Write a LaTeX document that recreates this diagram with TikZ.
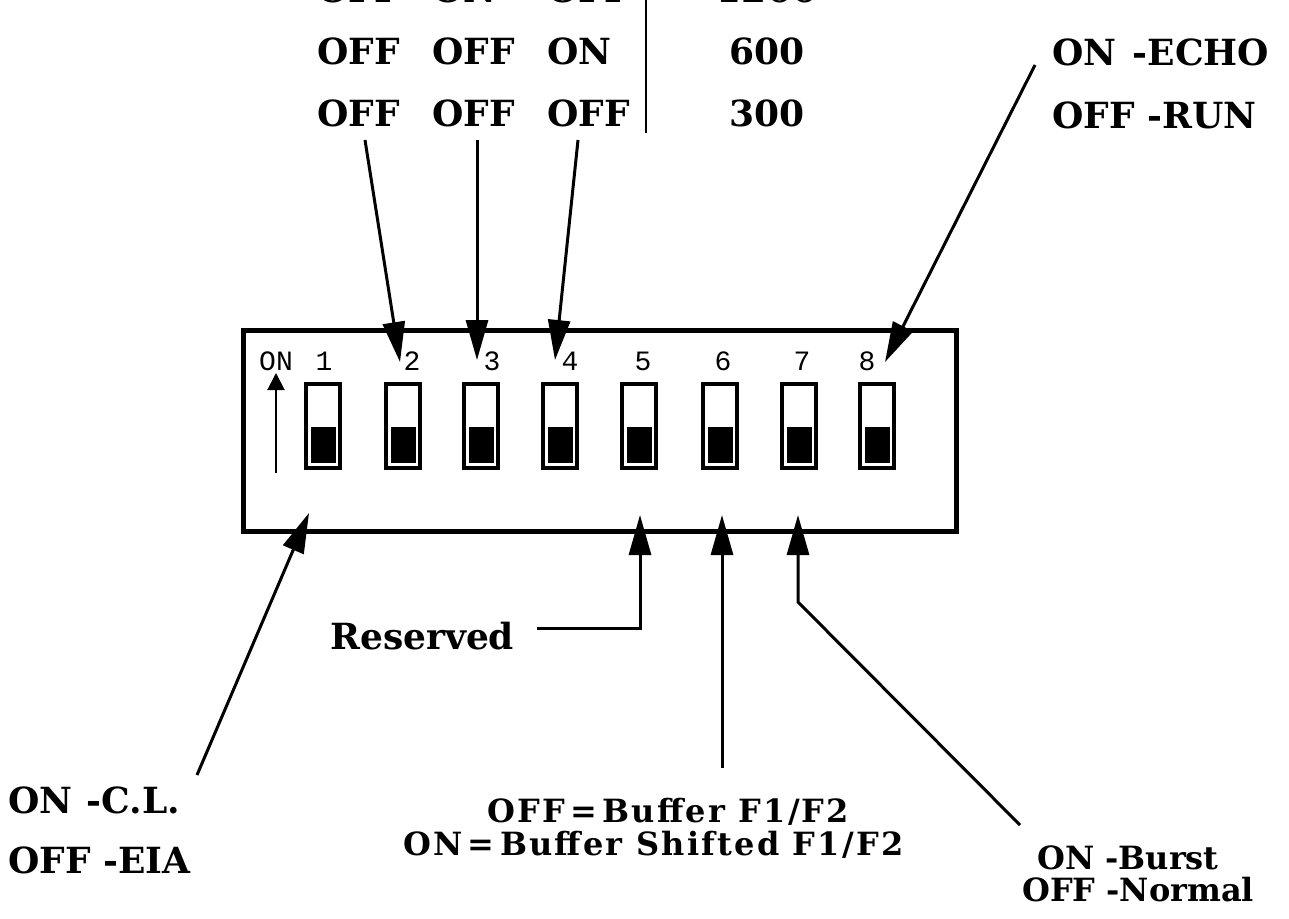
\documentclass[tikz,border=0pt]{standalone}
\usepackage{fontspec}
\setmainfont{DejaVu Serif}
\setmonofont{Liberation Mono}
\newfontfamily\spacedserif[LetterSpace=7]{DejaVu Serif}
\usetikzlibrary{arrows.meta}
\begin{document}
\begin{tikzpicture}[x=1pt,y=-1pt,
  big/.style={font=\fontsize{36}{40}\selectfont\bfseries, inner sep=0pt},
  mid/.style={font=\fontsize{32}{36}\selectfont\bfseries, inner sep=0pt},
  wide/.style={font=\fontsize{32}{36}\selectfont\spacedserif\bfseries, inner sep=0pt},
  small/.style={font=\fontsize{28}{30}\selectfont\ttfamily, inner sep=0pt},
  conn/.style={line width=3pt},
  arr/.style={conn,-{Triangle[length=40pt,width=22pt]}},
  switchbox/.style={draw, line width=4.5pt, minimum width=34pt, minimum height=84pt, inner sep=0pt},
  slider/.style={fill, minimum width=25pt, minimum height=36pt, inner sep=0pt},
]
\useasboundingbox (0,0) rectangle (1289,918);

% ---- table at top ----
\node[big,anchor=base west] (r1c1) at (317,2) {OFF};
\node[big,anchor=base west] (r1c2) at (432,2) {ON};
\node[big,anchor=base west] (r1c3) at (547,2) {OFF};
\node[big,anchor=base] (r1v) at (767,2) {1200};
\node[big,anchor=base west] (r2c1) at (317,64) {OFF};
\node[big,anchor=base west] (r2c2) at (432,64) {OFF};
\node[big,anchor=base west] (r2c3) at (547,64) {ON};
\node[big,anchor=base] (r2v) at (767,64) {600};
\node[big,anchor=base west] (r3c1) at (317,126) {OFF};
\node[big,anchor=base west] (r3c2) at (432,126) {OFF};
\node[big,anchor=base west] (r3c3) at (547,126) {OFF};
\node[big,anchor=base] (r3v) at (767,126) {300};
\coordinate (barT) at (646,-5);
\coordinate (barB) at (646,133);
\draw[line width=2.5pt] (barT) -- (barB);

% ---- DIP switch body ----
\node[draw, line width=5pt, minimum width=713pt, minimum height=201pt, inner sep=0pt] (box) at (599.5,430.5) {};
\foreach \i/\cx/\nx in {1/323/324,2/403/412,3/481/492,4/560/570,5/639/643,6/720/723,7/799/802,8/877/867}{
  \node[switchbox] (sw\i) at (\cx,426) {};
  \node[slider] (sl\i) at (\cx,445) {};
  \node[small,anchor=base] (n\i) at (\nx,370) {\i};
}
\node[small,anchor=base] (onl) at (276,370) {ON};
\coordinate (onB) at (276,473);
\coordinate (onT) at (276,373);
\draw[line width=2pt,-{Triangle[length=17pt,width=17pt]}] (onB) -- (onT);

% ---- top arrows ----
\coordinate (a2s) at (365,140); \coordinate (a2e) at (400,362);
\coordinate (a3s) at (477,140); \coordinate (a3e) at (477,360);
\coordinate (a4s) at (578,140); \coordinate (a4e) at (555,360);
\draw[arr] (a2s) -- (a2e);
\draw[arr] (a3s) -- (a3e);
\draw[arr] (a4s) -- (a4e);

% ---- switch 8 label ----
\node[big,anchor=west] (echo) at (1052,52) {ON\hspace{0.45em}-ECHO};
\node[big,anchor=west] (run) at (1052,115) {OFF -RUN};
\coordinate (a8s) at (1035,65); \coordinate (a8e) at (885,362);
\draw[arr] (a8s) -- (a8e);

% ---- bottom labels ----
\node[big,anchor=west] (cl) at (8,800) {ON\hspace{0.4em}-C.L.};
\node[big,anchor=west] (eia) at (8,860) {OFF -EIA};
\coordinate (a1s) at (197,775); \coordinate (a1e) at (309,513);
\draw[arr] (a1s) -- (a1e);

\node[big,anchor=west] (res) at (330,636) {Reserved};
\coordinate (a5s) at (537,628); \coordinate (a5k) at (640,628); \coordinate (a5e) at (640,515);
\draw[arr] (a5s) -- (a5k) -- (a5e);

\node[wide,anchor=west] (buf1) at (487,812) {OFF\,=\,Buffer F1/F2};
\node[wide,anchor=west] (buf2) at (403,845) {ON\,=\,Buffer Shifted F1/F2};
\coordinate (a6s) at (722,768); \coordinate (a6e) at (722,515);
\draw[arr] (a6s) -- (a6e);

\node[mid,anchor=west] (burst) at (1037,858) {ON -Burst};
\node[mid,anchor=west] (norm) at (1022,890) {OFF -Normal};
\coordinate (a7s) at (1020,825); \coordinate (a7k) at (798,602); \coordinate (a7e) at (798,515);
\draw[arr] (a7s) -- (a7k) -- (a7e);
\end{tikzpicture}
\end{document}
